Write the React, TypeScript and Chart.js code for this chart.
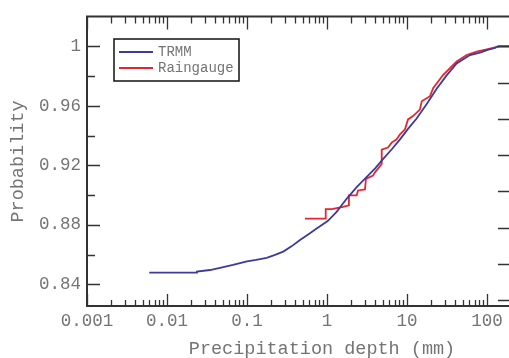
import React, { useEffect, useRef } from 'react';
import { Chart, registerables } from 'chart.js';

Chart.register(...registerables);

// Cumulative probability of daily precipitation depth (mm)
const trmmDepth = [0.006, 0.0237, 0.0237, 0.0345, 0.046, 0.0668, 0.1, 0.13, 0.176, 0.22, 0.284, 0.36, 0.46, 0.6, 0.743, 1.02, 1.32, 1.76, 2.35, 2.99, 4.0, 5.01, 6.5, 8.18, 10.3, 13.2, 18, 23.5, 31.3, 41.8, 61.3, 81.8, 102, 126, 136, 194];
const trmmProb = [0.8478, 0.8478, 0.8486, 0.8496, 0.851, 0.853, 0.8554, 0.8564, 0.8578, 0.8596, 0.862, 0.8655, 0.8698, 0.874, 0.8775, 0.8825, 0.8887, 0.8975, 0.9053, 0.911, 0.918, 0.9242, 0.931, 0.9375, 0.9445, 0.9515, 0.962, 0.9715, 0.9805, 0.9885, 0.9942, 0.9958, 0.9976, 0.9989, 1.0, 1.0];

const rainDepth = [0.531, 0.964, 0.964, 1.146, 1.585, 1.88, 1.88, 2.35, 2.44, 2.985, 3.07, 3.76, 3.98, 4.83, 4.83, 5.79, 6.44, 7.43, 8.18, 9.44, 10.3, 11.9, 14.5, 15.3, 19.4, 21.3, 28.4, 41.8, 55.7, 74.3, 99.2, 126, 145, 194];
const rainProb = [0.8842, 0.8842, 0.8905, 0.8905, 0.892, 0.8931, 0.8998, 0.8998, 0.9031, 0.9038, 0.9109, 0.9131, 0.9153, 0.9209, 0.9305, 0.932, 0.9353, 0.9375, 0.9409, 0.9442, 0.9509, 0.9531, 0.9575, 0.9631, 0.9665, 0.972, 0.9809, 0.9898, 0.9942, 0.9965, 0.998, 0.9993, 1.0, 1.0];

const seriesNames = ['TRMM', 'Raingauge'];
const seriesColors = ['#3b3b9e', '#e5262f'];

const xTickValues = [0.001, 0.01, 0.1, 1, 10, 100];
const xTickLabels = ['0.001', '0.01', '0.1', '1', '10', '100'];
const yTickValues = [0.84, 0.88, 0.92, 0.96, 1.0];
const yTickLabels = ['0.84', '0.88', '0.92', '0.96', '1'];
const yMinorValues = [0.86, 0.9, 0.94, 0.98];
const rightTickValues = [0, 1, 2, 3, 4, 5, 6, 7];

const xTitle = 'Precipitation depth (mm)';
const yTitle = 'Probability';

const FONT = "'Liberation Mono', 'DejaVu Sans Mono', monospace";
const TEXT = '#747474';
const INK = '#333333';

const framePlugin = {
  id: 'frameAndLegend',
  afterDatasetsDraw(chart: any) {
    const { ctx, chartArea: a, scales } = chart;
    const xs = scales.x;
    const ys = scales.y;
    const rs = scales.right;
    ctx.save();
    ctx.strokeStyle = INK;

    // inward tick marks
    ctx.lineWidth = 1.3;
    ctx.beginPath();
    for (const d of xTickValues) {
      for (let m = 1; m <= 9; m++) {
        const v = d * m;
        if (v < xs.min || v > xs.max) continue;
        const px = Math.round(xs.getPixelForValue(v)) + 0.5;
        const major = m === 1;
        ctx.moveTo(px, a.bottom);
        ctx.lineTo(px, a.bottom - (major ? 12 : 6));
        ctx.moveTo(px, a.top);
        ctx.lineTo(px, a.top + (major ? 13 : 7));
      }
    }
    for (const v of yTickValues) {
      const py = Math.round(ys.getPixelForValue(v)) + 0.5;
      ctx.moveTo(a.left, py);
      ctx.lineTo(a.left + 13, py);
    }
    for (const v of yMinorValues) {
      const py = Math.round(ys.getPixelForValue(v)) + 0.5;
      ctx.moveTo(a.left, py);
      ctx.lineTo(a.left + 8, py);
    }
    for (const v of rightTickValues) {
      const py = Math.round(rs.getPixelForValue(v)) + 0.5;
      ctx.moveTo(a.right, py);
      ctx.lineTo(a.right - 12, py);
    }
    ctx.stroke();

    // frame
    ctx.lineWidth = 2;
    ctx.strokeRect(a.left, a.top, a.right - a.left, a.bottom - a.top);

    // legend
    const lx = 114, ly = 39, lw = 125, lh = 42;
    ctx.fillStyle = '#ffffff';
    ctx.fillRect(lx, ly, lw, lh);
    ctx.lineWidth = 1.5;
    ctx.strokeStyle = '#111111';
    ctx.strokeRect(lx, ly, lw, lh);
    ctx.font = `14px ${FONT}`;
    ctx.textBaseline = 'middle';
    ctx.textAlign = 'left';
    seriesNames.forEach((name, i) => {
      const yy = ly + 13 + i * 16;
      ctx.strokeStyle = seriesColors[i];
      ctx.lineWidth = 1.8;
      ctx.beginPath();
      ctx.moveTo(lx + 5, yy);
      ctx.lineTo(lx + 39, yy);
      ctx.stroke();
      ctx.fillStyle = TEXT;
      ctx.fillText(name, lx + 44, yy);
    });

    // axis titles
    ctx.font = `18.5px ${FONT}`;
    ctx.fillStyle = TEXT;
    ctx.textAlign = 'center';
    ctx.textBaseline = 'middle';
    ctx.fillText(xTitle, 322, 349);
    ctx.translate(18.5, 161.5);
    ctx.rotate(-Math.PI / 2);
    ctx.fillText(yTitle, 0, 0);
    ctx.restore();
  },
};

export default function App() {
  const canvasRef = useRef<HTMLCanvasElement | null>(null);

  useEffect(() => {
    if (!canvasRef.current) return;
    const chart = new Chart(canvasRef.current, {
      type: 'line',
      data: {
        datasets: [
          {
            label: seriesNames[0],
            data: trmmDepth.map((x, i) => ({ x, y: trmmProb[i] })),
            borderColor: seriesColors[0],
            borderWidth: 1.8,
            pointRadius: 0,
            tension: 0,
            yAxisID: 'y',
          },
          {
            label: seriesNames[1],
            data: rainDepth.map((x, i) => ({ x, y: rainProb[i] })),
            borderColor: seriesColors[1],
            borderWidth: 1.8,
            pointRadius: 0,
            tension: 0,
            yAxisID: 'y',
          },
        ],
      },
      options: {
        animation: false,
        responsive: true,
        maintainAspectRatio: false,
        devicePixelRatio: 1,
        layout: { padding: { top: 13, right: 10, bottom: 0, left: 0 } },
        plugins: { legend: { display: false }, tooltip: { enabled: false } },
        scales: {
          x: {
            type: 'logarithmic',
            position: 'bottom',
            min: 0.001,
            max: 194,
            grid: { display: false, drawTicks: false },
            border: { display: false },
            afterFit: (s: any) => { s.height = 52; },
            afterBuildTicks: (s: any) => { s.ticks = xTickValues.map((value) => ({ value })); },
            ticks: {
              autoSkip: false,
              maxRotation: 0,
              padding: 5,
              color: TEXT,
              font: { family: FONT, size: 17.5 },
              callback: (_v: any, i: number) => xTickLabels[i],
            },
          },
          y: {
            type: 'linear',
            position: 'left',
            min: 0.8254,
            max: 1.0201,
            grid: { display: false, drawTicks: false },
            border: { display: false },
            afterFit: (s: any) => { s.width = 87; },
            afterBuildTicks: (s: any) => { s.ticks = yTickValues.map((value) => ({ value })); },
            ticks: {
              padding: 6,
              color: TEXT,
              font: { family: FONT, size: 17.5 },
              callback: (_v: any, i: number) => yTickLabels[i],
            },
          },
          right: {
            type: 'linear',
            position: 'right',
            display: false,
            min: -0.1636,
            max: 7.826,
          },
        },
      },
      plugins: [framePlugin],
    });
    return () => chart.destroy();
  }, []);

  return (
    <div style={{ position: 'fixed', left: 0, top: 0, width: 520, height: 358, background: '#ffffff' }}>
      <canvas ref={canvasRef} />
    </div>
  );
}
